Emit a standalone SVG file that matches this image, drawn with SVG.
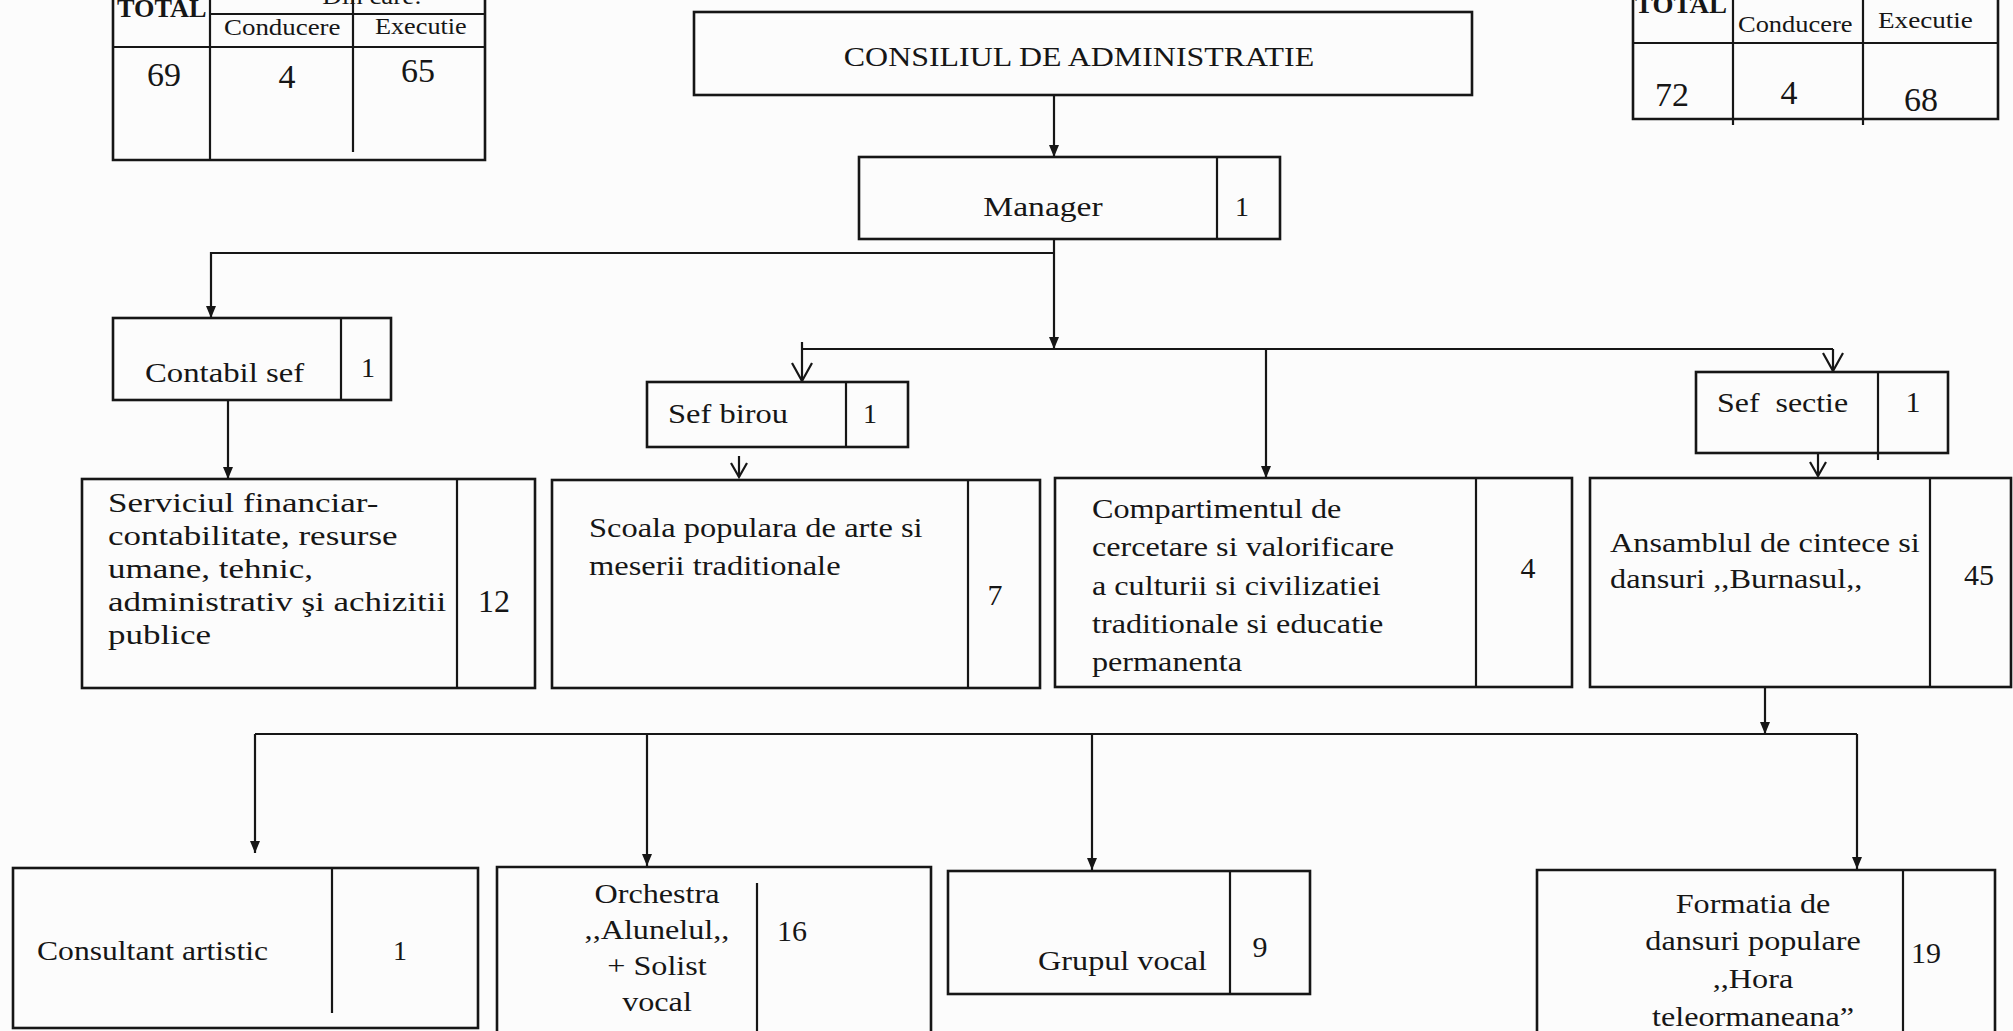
<svg xmlns="http://www.w3.org/2000/svg" width="2013" height="1031" viewBox="0 0 2013 1031">
<style>
.bg{fill:#fcfcfc}
.box{fill:none;stroke:#161616;stroke-width:2.6}
.ln{fill:none;stroke:#161616;stroke-width:2.2}
.t{font-family:"Liberation Serif","Times New Roman",serif;font-size:28px;fill:#161616}
.h{font-family:"Liberation Serif","Times New Roman",serif;font-size:23px;fill:#161616}
.hb{font-family:"Liberation Serif","Times New Roman",serif;font-size:25px;font-weight:bold;fill:#161616}
.n{font-family:"Liberation Serif","Times New Roman",serif;font-size:30px;fill:#161616;text-anchor:middle}
.nb{font-family:"Liberation Serif","Times New Roman",serif;font-size:34px;fill:#161616;text-anchor:middle}
.m{text-anchor:middle}
.e{text-anchor:end}
</style>
<defs>
<marker id="fa" markerUnits="userSpaceOnUse" markerWidth="12" markerHeight="12" refX="12" refY="6" orient="auto" viewBox="0 0 12 12">
<path d="M0,1 L12,6 L0,11 z" fill="#161616"/>
</marker>
<marker id="va" markerUnits="userSpaceOnUse" markerWidth="22" markerHeight="24" refX="20" refY="12" orient="auto" viewBox="0 0 22 24">
<path d="M2,2 L20,12 L2,22" fill="none" stroke="#161616" stroke-width="2.2"/>
</marker>
<marker id="vs" markerUnits="userSpaceOnUse" markerWidth="18" markerHeight="20" refX="16" refY="10" orient="auto" viewBox="0 0 18 20">
<path d="M2,2 L16,10 L2,18" fill="none" stroke="#161616" stroke-width="2.2"/>
</marker>
</defs>
<rect class="bg" x="0" y="0" width="2013" height="1031"/>

<g id="table-left">
<path class="box" d="M113,-5 V160 H485 V-5"/>
<path class="ln" d="M210,-5 V160 M353,-5 V152 M210,14 H485 M113,47 H485"/>
<text class="hb" transform="translate(117 17) scale(1.05 1)">TOTAL</text>
<text class="h m" transform="translate(372 4) scale(1.17 1)">Din care:</text>
<text class="h" transform="translate(224 35) scale(1.17 1)">Conducere</text>
<text class="h" transform="translate(375 34) scale(1.14 1)">Executie</text>
<text class="nb" x="164" y="86">69</text>
<text class="nb" x="287" y="88">4</text>
<text class="nb" x="418" y="82">65</text>
</g>

<g id="table-right">
<path class="box" d="M1633,-5 V119 H1998 V-5"/>
<path class="ln" d="M1733,-5 V125 M1863,-5 V125 M1633,43 H1998"/>
<text class="hb" transform="translate(1635 13) scale(1.08 1)">TOTAL</text>
<text class="h" transform="translate(1738 32) scale(1.15 1)">Conducere</text>
<text class="h" transform="translate(1878 28) scale(1.18 1)">Executie</text>
<text class="nb" x="1672" y="106">72</text>
<text class="nb" x="1789" y="104">4</text>
<text class="nb" x="1921" y="111">68</text>
</g>

<g id="connectors">
<path class="ln" d="M1054,95 V157" marker-end="url(#fa)"/>
<path class="ln" d="M1054,239 V349" marker-end="url(#fa)"/>
<path class="ln" d="M1054,253 H211 V318" marker-end="url(#fa)"/>
<path class="ln" d="M802,349 H1833"/>
<path class="ln" d="M802,342 V381" marker-end="url(#va)"/>
<path class="ln" d="M1833,349 V371" marker-end="url(#va)"/>
<path class="ln" d="M1266,349 V478" marker-end="url(#fa)"/>
<path class="ln" d="M228,400 V479" marker-end="url(#fa)"/>
<path class="ln" d="M739,456 V477" marker-end="url(#vs)"/>
<path class="ln" d="M1818,453 V476" marker-end="url(#vs)"/>
<path class="ln" d="M1765,687 V734" marker-end="url(#fa)"/>
<path class="ln" d="M255,734 H1857"/>
<path class="ln" d="M255,734 V853" marker-end="url(#fa)"/>
<path class="ln" d="M647,734 V866" marker-end="url(#fa)"/>
<path class="ln" d="M1092,734 V870" marker-end="url(#fa)"/>
<path class="ln" d="M1857,734 V869" marker-end="url(#fa)"/>
</g>

<g id="consiliul">
<rect class="box" x="694" y="12" width="778" height="83"/>
<text class="t m" transform="translate(1079 66) scale(1.14 1)">CONSILIUL DE ADMINISTRATIE</text>
</g>

<g id="manager">
<rect class="box" x="859" y="157" width="421" height="82"/>
<path class="ln" d="M1217,157 V239"/>
<text class="t m" transform="translate(1043 216) scale(1.2 1)">Manager</text>
<text class="t m" x="1242" y="216">1</text>
</g>

<g id="contabil-sef">
<rect class="box" x="113" y="318" width="278" height="82"/>
<path class="ln" d="M341,318 V400"/>
<text class="t" transform="translate(145 382) scale(1.17 1)">Contabil sef</text>
<text class="t m" x="368" y="377">1</text>
</g>

<g id="serviciul">
<rect class="box" x="82" y="479" width="453" height="209"/>
<path class="ln" d="M457,479 V688"/>
<text class="t" transform="translate(108 0) scale(1.25 1)"><tspan x="0" y="512">Serviciul financiar-</tspan><tspan x="0" y="545">contabilitate, resurse</tspan><tspan x="0" y="578">umane, tehnic,</tspan><tspan x="0" y="611">administrativ şi achizitii</tspan><tspan x="0" y="644">publice</tspan></text>
<text class="n" x="494" y="612" style="font-size:32px">12</text>
</g>

<g id="sef-birou">
<rect class="box" x="647" y="382" width="261" height="65"/>
<path class="ln" d="M846,382 V447"/>
<text class="t" transform="translate(668 423) scale(1.16 1)">Sef birou</text>
<text class="t m" x="870" y="423">1</text>
</g>

<g id="scoala">
<rect class="box" x="552" y="480" width="488" height="208"/>
<path class="ln" d="M968,480 V688"/>
<text class="t" transform="translate(589 0) scale(1.16 1)"><tspan x="0" y="537">Scoala populara de arte si</tspan><tspan x="0" y="575">meserii traditionale</tspan></text>
<text class="n" x="995" y="605">7</text>
</g>

<g id="compartimentul">
<rect class="box" x="1055" y="478" width="517" height="209"/>
<path class="ln" d="M1476,478 V687"/>
<text class="t" transform="translate(1092 0) scale(1.15 1)"><tspan x="0" y="518">Compartimentul de</tspan><tspan x="0" y="556">cercetare si valorificare</tspan><tspan x="0" y="595">a culturii si civilizatiei</tspan><tspan x="0" y="633">traditionale si educatie</tspan><tspan x="0" y="671">permanenta</tspan></text>
<text class="n" x="1528" y="578">4</text>
</g>

<g id="sef-sectie">
<rect class="box" x="1696" y="372" width="252" height="81"/>
<path class="ln" d="M1878,372 V460"/>
<text class="t" xml:space="preserve" transform="translate(1717 412) scale(1.14 1)">Sef  sectie</text>
<text class="n" x="1913" y="412">1</text>
</g>

<g id="ansamblul">
<rect class="box" x="1590" y="478" width="421" height="209"/>
<path class="ln" d="M1930,478 V687"/>
<text class="t" transform="translate(1610 0) scale(1.155 1)"><tspan x="0" y="552">Ansamblul de cintece si</tspan><tspan x="0" y="588">dansuri ,,Burnasul,,</tspan></text>
<text class="n" x="1979" y="585">45</text>
</g>

<g id="consultant">
<rect class="box" x="13" y="868" width="465" height="160"/>
<path class="ln" d="M332,868 V1013"/>
<text class="t" transform="translate(37 960) scale(1.13 1)">Consultant artistic</text>
<text class="t m" x="400" y="960">1</text>
</g>

<g id="orchestra">
<path class="box" d="M497,1040 V867 H931 V1040"/>
<path class="ln" d="M757,883 V1040"/>
<text class="t m" transform="translate(657 0) scale(1.15 1)"><tspan x="0" y="903">Orchestra</tspan><tspan x="0" y="939">,,Alunelul,,</tspan><tspan x="0" y="975">+ Solist</tspan><tspan x="0" y="1011">vocal</tspan></text>
<text class="n" x="792" y="941">16</text>
</g>

<g id="grupul-vocal">
<rect class="box" x="948" y="871" width="362" height="123"/>
<path class="ln" d="M1230,871 V994"/>
<text class="t e" transform="translate(1207 970) scale(1.15 1)">Grupul vocal</text>
<text class="n" x="1260" y="957">9</text>
</g>

<g id="formatia">
<path class="box" d="M1537,1040 V870 H1995 V1040"/>
<path class="ln" d="M1903,870 V1040"/>
<text class="t m" transform="translate(1753 0) scale(1.15 1)"><tspan x="0" y="913">Formatia de</tspan><tspan x="0" y="950">dansuri populare</tspan><tspan x="0" y="988">,,Hora</tspan><tspan x="0" y="1026">teleormaneana”</tspan></text>
<text class="n" x="1926" y="963">19</text>
</g>
</svg>
